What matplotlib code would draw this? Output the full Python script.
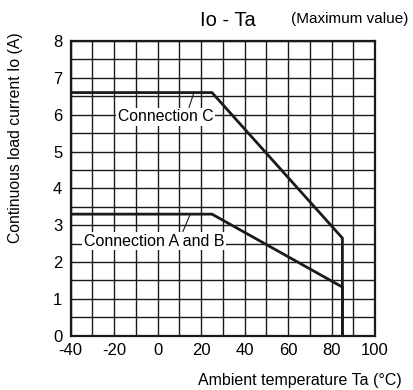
import matplotlib
matplotlib.use("Agg")
import matplotlib.pyplot as plt
import numpy as np

plt.rcParams["font.family"] = ["Liberation Sans", "DejaVu Sans"]
plt.rcParams["axes.unicode_minus"] = False

# derating curves (Ta in degC, Io in A)
ta_c = [-40, 25, 85, 85]
io_c = [6.6, 6.6, 2.65, 0]
ta_ab = [-40, 25, 85, 85]
io_ab = [3.3, 3.3, 1.32, 0]

xticks = [-40, -20, 0, 20, 40, 60, 80, 100]
yticks = [0, 1, 2, 3, 4, 5, 6, 7, 8]

fig = plt.figure(figsize=(4.14, 3.9), dpi=100)
ax = fig.add_axes([70.7 / 414, 1 - 335.7 / 390, 304.3 / 414, 294.7 / 390])

ax.set_xlim(-40, 100)
ax.set_ylim(0, 8)
ax.set_xticks(xticks)
ax.set_yticks(yticks)
ax.set_xticks(np.arange(-40, 101, 10), minor=True)
ax.set_yticks(np.arange(0, 8.01, 0.5), minor=True)
ax.grid(True, which="both", color="#1a1a1a", lw=1.0)
ax.tick_params(which="both", length=0, labelsize=12)
ax.tick_params(axis="x", pad=5)
ax.tick_params(axis="y", pad=6)
for s in ax.spines.values():
    s.set_linewidth(1.6)
    s.set_color("#1a1a1a")

ax.plot(ta_c, io_c, color="#1a1a1a", lw=2.0, zorder=3, solid_joinstyle="miter")
ax.plot(ta_ab, io_ab, color="#1a1a1a", lw=2.0, zorder=3, solid_joinstyle="miter")

# labels with leader lines
ax.annotate("Connection C", xy=(16.7, 6.6), xytext=(3.6, 5.94), fontsize=11.3,
            ha="center", va="center",
            bbox=dict(boxstyle="square,pad=0.12", fc="white", ec="none"),
            arrowprops=dict(arrowstyle="-", color="#1a1a1a", lw=0.8, shrinkA=0, shrinkB=0,
                            relpos=(0.74, 1.0)), zorder=4)
ax.annotate("Connection A and B", xy=(15.0, 3.3), xytext=(-1.7, 2.57), fontsize=11.5,
            ha="center", va="center",
            bbox=dict(boxstyle="square,pad=0.12", fc="white", ec="none"),
            arrowprops=dict(arrowstyle="-", color="#1a1a1a", lw=0.8, shrinkA=0, shrinkB=0,
                            relpos=(0.70, 1.0)), zorder=4)

fig.text(228 / 414, 1 - 20 / 390, "Io - Ta", fontsize=14.5, ha="center", va="center")
fig.text(408 / 414, 1 - 19 / 390, "(Maximum value)", fontsize=11, ha="right", va="center")
fig.text(402 / 414, 1 - 381 / 390, "Ambient temperature Ta (\u00b0C)", fontsize=11.5,
         ha="right", va="center")
fig.text(16 / 414, 1 - 138 / 390, "Continuous load current Io (A)", fontsize=11.3,
         rotation=90, ha="center", va="center")

fig.savefig("out.png", dpi=100)
